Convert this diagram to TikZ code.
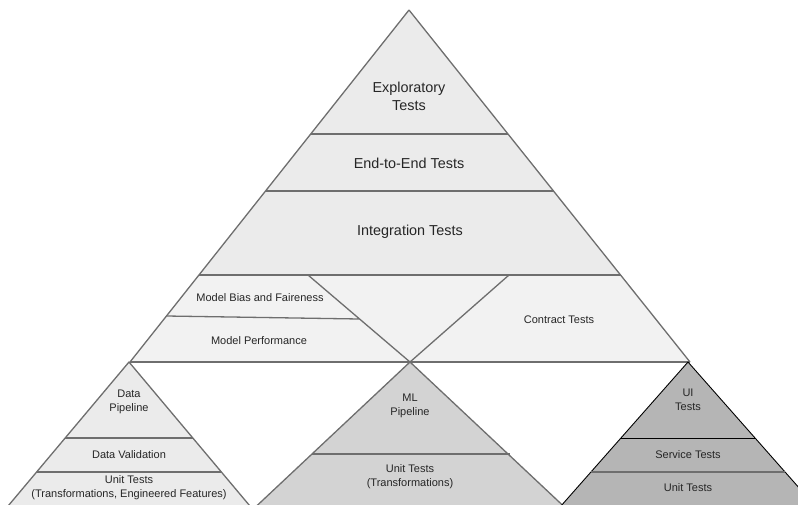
\documentclass[tikz,border=0pt]{standalone}
\usepackage{fontspec}
\setmainfont{Liberation Sans}
\definecolor{edgegray}{HTML}{6E6E6E}
\definecolor{topgray}{HTML}{EBEBEB}
\definecolor{bandgray}{HTML}{F2F2F2}
\definecolor{mlgray}{HTML}{D3D3D3}
\definecolor{uigray}{HTML}{B5B5B5}
\tikzset{edge/.style={draw=edgegray, line width=1.3pt, line join=round},
         uiedge/.style={draw=black, line width=0.9pt, line join=round},
         big/.style={font=\fontsize{14.4}{18}\selectfont, align=center, text=black!85},
         small/.style={font=\fontsize{11}{14}\selectfont, align=center, text=black!85}}
\begin{document}
\begin{tikzpicture}[x=1pt, y=-1pt]
    \useasboundingbox (0,0) rectangle (798,504);
    \clip (0,0) rectangle (798,504);

    \coordinate (apex) at (409,10);
    \coordinate (bl) at (130,362);
    \coordinate (br) at (690,362);
    \coordinate (xl) at (308,275);
    \coordinate (xr) at (509,275);
    \coordinate (xm) at (410,362);

    \fill[topgray] (apex) -- (bl) -- (br) -- cycle;
    \fill[bandgray] (199,275) -- (bl) -- (br) -- (620.5,275) -- cycle;
    \draw[edge] (310.7,134) -- (508,134)
                (265.5,191) -- (553.5,191)
                (199,275) -- (620.5,275)
                (bl) -- (br);
    \draw[edge] (xl) -- (xm) -- (xr)
                (166.5,316) -- (359.6,319);
    \draw[edge] (apex) -- (bl) (apex) -- (br);

    \filldraw[edge, fill=topgray] (129,362) -- (0.5,515) -- (257.5,515) -- cycle;
    \draw[edge] (65,438) -- (193,438) (37,472) -- (221,472);

    \filldraw[edge, fill=mlgray] (xm) -- (247,515) -- (573,515) -- cycle;
    \draw[edge] (312,454) -- (510,454);

    \filldraw[uiedge, fill=uigray] (688,362) -- (553,515) -- (823,515) -- cycle;
    \draw[uiedge] (621,438) -- (755,438);
    \draw[edge] (591,472) -- (785,472);

    \node[big] (explor) at (409,96) {Exploratory\\Tests};
    \node[big] (e2e) at (409,163) {End-to-End Tests};
    \node[big] (integ) at (410,232) {Integration Tests};
    \node[small] (bias) at (260,298) {Model Bias and Faireness};
    \node[small] (perf) at (259,341) {Model Performance};
    \node[small] (contract) at (559,320) {Contract Tests};
    \node[small] (datapipe) at (129,402) {Data\\Pipeline};
    \node[small] (dataval) at (129,455) {Data Validation};
    \node[small] (dataunit) at (129,488) {Unit Tests\\(Transformations, Engineered Features)};
    \node[small] (mlpipe) at (410,406) {ML\\Pipeline};
    \node[small] (mlunit) at (410,477) {Unit Tests\\(Transformations)};
    \node[small] (uitests) at (688,400) {UI\\Tests};
    \node[small] (service) at (688,455) {Service Tests};
    \node[small] (uiunit) at (688,488) {Unit Tests};
\end{tikzpicture}
\end{document}
